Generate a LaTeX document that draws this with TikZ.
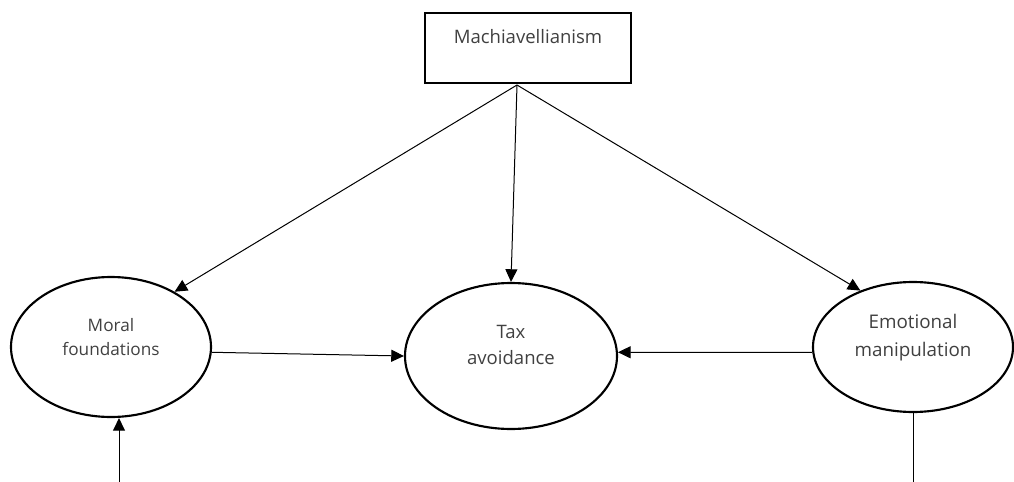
\documentclass[tikz,border=0pt]{standalone}
\usepackage{fontspec}
\setmainfont{Open Sans}
\usetikzlibrary{shapes.geometric,arrows.meta}
\def\thin{0.75pt}
\def\thick{1.6pt}

\begin{document}
\begin{tikzpicture}[
    x=0.75pt,y=-0.75pt,
    every node/.style={text=black!75,align=center},
    construct/.style={draw,line width=\thick,rectangle,minimum width=154.5pt,minimum height=52.5pt},
    latent/.style 2 args={draw,line width=\thick,ellipse,inner sep=0pt,minimum width=#1,minimum height=#2},
    path/.style={line width=\thin,-{Triangle[length=9.5pt,width=9pt]}},
    plain/.style={line width=\thin}
  ]
  \useasboundingbox (0,0) rectangle (1014,482);

  \node[construct] (mach) at (528,48) {};
  \node[font=\fontsize{13.9}{16}\selectfont] (machtxt) at (528,37) {Machiavellianism};

  \node[latent={150pt}{105pt}] (mf) at (111,347) {};
  \node[latent={159pt}{109.5pt}] (ta) at (511,356) {};
  \node[latent={150pt}{97.5pt}] (em) at (913,347) {};
  \node[font=\fontsize{12.9}{18}\selectfont] (mftxt) at (111,337) {Moral\\foundations};
  \node[font=\fontsize{13.9}{19.5}\selectfont] (tatxt) at (511,345) {Tax\\avoidance};
  \node[font=\fontsize{14.1}{21}\selectfont] (emtxt) at (913,338) {Emotional\\manipulation};

  \coordinate (mtop) at (517,85);
  \coordinate (mfin) at (119,482);
  \coordinate (emout) at (913,482);

  \draw[path] (mtop) -- (mf.41);
  \draw[path] (mtop) -- (ta.north);
  \draw[path] (mtop) -- (em.133);
  \draw[path] (mf.-3) -- (ta.west);
  \draw[path] (em.183) -- (ta.2);
  \draw[path] (mfin) -- (mfin |- mf.south);
  \draw[plain] (em.south) -- (emout);

\end{tikzpicture}
\end{document}
